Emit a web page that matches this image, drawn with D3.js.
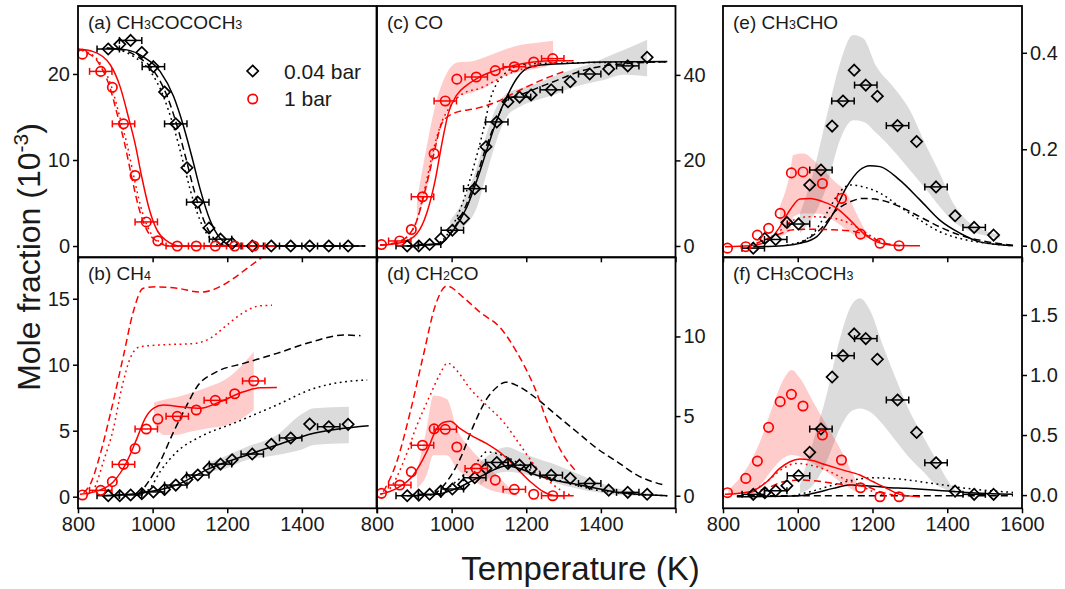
<!DOCTYPE html>
<html><head><meta charset="utf-8">
<script src="https://cdn.jsdelivr.net/npm/d3@7"></script>
<style>body{margin:0;background:#fff}</style>
</head><body>
<script>
// ---------- experimental temperatures (K) ----------
const T04 = [881, 912, 941, 971, 1002, 1032, 1062, 1092, 1121, 1151, 1182, 1213, 1267, 1318, 1370, 1421, 1472, 1524];
const T1  = [812, 861, 892, 922, 953, 983, 1014, 1066, 1117, 1168, 1220, 1271];
const err04 = [30,0,30,0,30,0,30,0,30,0,30,0,30,0,30,0,30,0];
const err1  = [0,30,0,30,0,30,0,30,0,30,0,30];
const noErr1 = [0,0,0,0,0,0,0,0,0,0,0,0];

// ---------- (a) CH3COCOCH3 ----------
const a04 = [22.9, 23.45, 23.9, 22.5, 20.85, 17.9, 14.2, 9.1, 5.1, 2.1, 0.8, 0.3, 0, 0, 0, 0, 0, 0];
const a1  = [22.3, 20.3, 18.45, 14.2, 8.2, 2.8, 0.6, 0, 0, 0, 0, 0];
const aBlackSolid  = [[877,23.0],[931,22.8],[975,22.0],[1020,20.3],[1056,17.4],[1083,13.9],[1105,10.4],[1128,6.5],[1154,3.0],[1181,0.9],[1217,0],[1570,0]];
const aBlackDashed = [[877,23.0],[918,22.8],[960,22.0],[1004,20.3],[1039,17.4],[1066,13.9],[1088,10.4],[1111,6.5],[1137,3.0],[1164,0.9],[1200,0],[1570,0]];
const aBlackDotted = [[877,23.0],[910,22.8],[950,22.0],[994,20.3],[1029,17.4],[1056,13.9],[1078,10.4],[1101,6.5],[1127,3.0],[1154,0.9],[1190,0],[1570,0]];
const aRedSolid    = [[797,22.9],[841,22.6],[886,21.1],[913,18.5],[935,15.0],[953,11.9],[971,8.0],[989,4.6],[1011,1.9],[1038,0.6],[1074,0],[1333,0]];
const aRedDotted   = [[797,22.9],[822,22.6],[862,21.1],[890,18.5],[912,15.0],[931,11.9],[950,8.0],[968,4.6],[990,1.9],[1015,0.6],[1050,0],[1333,0]];
const aRedDashed   = [[797,22.9],[818,22.6],[858,21.1],[885,18.5],[907,15.0],[925,11.9],[944,8.0],[962,4.6],[984,1.9],[1010,0.6],[1045,0],[1333,0]];

// ---------- (b) CH4 ----------
const b04 = [0.08, 0.08, 0.13, 0.23, 0.36, 0.55, 0.88, 1.31, 1.64, 2.15, 2.47, 2.8, 3.23, 3.97, 4.45, 5.5, 5.3, 5.48];
const b1  = [0.13, 0.48, 1.14, 2.45, 3.64, 5.13, 5.88, 6.09, 6.57, 7.3, 7.8, 8.77];
const bBandRed  = [[1004,5.56,7.14],[1030,4.67,7.35],[1060,4.67,7.52],[1100,4.92,7.83],[1150,5.18,8.33],[1200,5.43,8.97],[1240,5.94,9.98],[1271,6.57,10.98]];
const bBandGrey = [[1145,1.89,2.53],[1181,2.02,2.91],[1253,2.78,3.79],[1333,3.16,4.67],[1396,3.54,6.19],[1432,3.92,6.7],[1526,4.04,6.82]];
const bBlackSolid  = [[870,0.08],[975,0.3],[1064,0.88],[1153,2.15],[1253,3.16],[1333,3.92],[1432,4.8],[1579,5.38]];
const bBlackDotted = [[960,0.15],[993,0.64],[1020,1.9],[1065,3.4],[1128,4.55],[1217,5.56],[1333,6.95],[1432,8.2],[1512,8.7],[1575,8.84]];
const bBlackDashed = [[960,0.1],[989,1.14],[1020,2.65],[1056,4.9],[1092,6.95],[1119,8.33],[1172,9.47],[1244,10.1],[1333,10.86],[1423,11.7],[1512,12.25],[1557,12.2]];
const bRedSolid    = [[805,0.18],[859,0.5],[895,1.14],[931,2.65],[958,4.42],[980,5.94],[1002,6.7],[1029,6.95],[1074,6.82],[1128,6.7],[1181,7.2],[1244,7.95],[1289,8.26],[1333,8.28]];
const bRedDotted   = [[825,0.2],[841,0.5],[868,2.65],[895,5.18],[917,8.2],[940,10.5],[966,11.36],[1020,11.5],[1110,11.6],[1154,12.0],[1199,13.0],[1244,13.97],[1289,14.47],[1320,14.5]];
const bRedDashed   = [[815,0.3],[832,0.89],[859,3.16],[886,6.19],[922,10.7],[948,14.0],[975,15.8],[1011,15.9],[1065,15.8],[1128,15.5],[1172,15.8],[1217,16.55],[1253,17.3],[1289,18.06],[1324,18.8]];

// ---------- (c) CO ----------
const c04 = [0, 0, 0.33, 1.7, 3.68, 6.4, 13.4, 23.2, 29.0, 33.7, 34.8, 35.3, 36.5, 38.4, 40.2, 41.4, 42.1, 44.1];
const c1  = [0.33, 1.17, 3.84, 11.5, 21.6, 33.9, 39.0, 39.5, 41.0, 41.9, 43.0, 43.8];
const cBandRed  = [[907,6.0,10.7],[933,13.0,23.2],[960,24.0,34.1],[987,31.0,40.4],[1016,34.9,42.9],[1050,35.7,43.1],[1094,37.2,44.3],[1139,39.6,45.8],[1184,40.7,47.0],[1229,41.5,47.5],[1272,42.3,48.0]];
const cBandGrey = [[996,2.9,6.0],[1032,4.45,10.7],[1068,9.1,18.5],[1094,17.0,26.3],[1121,24.8,32.6],[1148,30.2,35.7],[1184,32.6,36.9],[1229,34.1,38.0],[1273,35.3,39.6],[1318,36.9,41.1],[1363,38.0,42.3],[1408,38.8,43.9],[1461,40.0,45.8],[1524,39.6,48.2]];
const cRedSolid    = [[808,0.17],[871,0.94],[907,2.9],[933,7.6],[956,15.4],[974,24.0],[991,31.0],[1014,35.3],[1041,37.6],[1077,39.6],[1121,41.1],[1166,42.2],[1220,43.0],[1273,43.3],[1327,43.3]];
const cRedDotted   = [[808,0.2],[850,0.8],[880,2.1],[907,6.0],[929,13.8],[951,22.4],[969,27.9],[996,32.6],[1032,35.7],[1077,36.9],[1121,38.8],[1166,40.7],[1211,41.9]];
const cRedDashed   = [[808,0.2],[850,0.8],[880,2.1],[907,6.0],[929,13.0],[951,21.0],[974,28.7],[1005,31.0],[1068,32.2],[1121,33.7],[1166,35.7],[1211,37.6],[1264,39.6],[1309,41.0]];
const cBlackSolid  = [[880,0],[969,0.55],[1005,3.7],[1041,9.1],[1068,15.4],[1094,22.4],[1121,29.4],[1148,34.9],[1175,39.2],[1202,41.5],[1238,42.3],[1318,42.7],[1408,43.0],[1578,43.1]];
const cBlackDotted = [[880,0],[960,0.55],[996,3.7],[1032,10.7],[1059,18.5],[1085,27.1],[1103,34.1],[1121,38.0],[1148,40.7],[1184,42.3],[1246,42.7],[1578,43.0]];
const cBlackDashed = [[880,0],[969,0.6],[1005,4.0],[1041,10],[1068,16.5],[1094,23.5],[1121,29.5],[1148,34.1],[1184,35.3],[1229,36.9],[1273,38.4],[1318,40.0],[1372,41.5],[1425,42.3],[1479,42.7],[1578,43.1]];

// ---------- (d) CH2CO ----------
const d04 = [0, 0.04, 0.09, 0.29, 0.42, 0.71, 1.13, 1.71, 2.09, 2.02, 1.92, 1.67, 1.29, 1.09, 0.77, 0.35, 0.21, 0.09];
const d1  = [0.15, 0.67, 1.5, 3.17, 4.2, 4.17, 3.06, 1.71, 0.98, 0.4, 0.09, 0];
const dBandRed  = [[907,0.46,1.5],[933,1.29,4.21],[951,2.54,6.29],[987,2.54,6.08],[1014,1.71,4.21],[1050,1.09,2.96],[1094,0.46,1.92],[1139,0.15,0.88],[1175,0,0.04]];
const dBandGrey = [[1077,0.67,2.13],[1112,1.29,2.75],[1148,1.5,3.06],[1184,1.4,2.75],[1229,1.19,2.33],[1282,0.77,1.92],[1336,0.46,1.4],[1390,0.21,0.88],[1444,0.04,0.46],[1497,0,0.25],[1533,0,0.15]];
const dRedSolid    = [[808,0.09],[853,0.46],[897,1.29],[933,2.75],[960,4.21],[982,4.63],[996,4.67],[1023,4.21],[1059,3.69],[1094,3.27],[1139,2.54],[1175,1.71],[1211,0.88],[1246,0.25],[1282,0],[1327,0]];
const dRedDotted   = [[810,0.1],[835,0.46],[871,2.13],[907,4.42],[942,6.29],[969,7.65],[989,8.33],[1014,7.86],[1050,6.71],[1094,5.67],[1139,4.63],[1184,3.17],[1229,1.71],[1273,0.67],[1318,0.04]];
const dRedDashed   = [[817,0.25],[853,2.13],[889,5.25],[924,8.79],[956,11.92],[987,13.17],[1032,12.44],[1077,11.5],[1130,10.56],[1175,9.0],[1220,6.92],[1264,4.21],[1300,2.54],[1331,1.6]];
const dBlackSolid  = [[880,0],[960,0.09],[1014,0.46],[1050,0.88],[1085,1.29],[1121,1.71],[1148,1.88],[1175,1.75],[1229,1.29],[1282,0.94],[1336,0.71],[1390,0.46],[1444,0.21],[1497,0.09],[1578,0]];
const dBlackDotted = [[942,0.04],[987,0.46],[1032,1.29],[1068,2.13],[1094,2.75],[1121,2.65],[1157,2.33],[1202,1.71],[1256,1.19],[1318,0.77],[1390,0.35],[1461,0.15],[1578,0]];
const dBlackDashed = [[951,0.04],[987,0.88],[1023,2.33],[1059,4.42],[1094,6.08],[1121,6.81],[1144,7.13],[1175,6.92],[1229,6.08],[1282,5.04],[1336,4.0],[1390,2.96],[1444,2.13],[1497,1.29],[1569,0.67]];

// ---------- (e) CH3CHO ----------
const e04 = [-0.005, 0.015, 0.013, 0.048, 0.045, 0.126, 0.157, 0.248, 0.30, 0.364, 0.333, 0.31, 0.249, 0.216, 0.122, 0.062, 0.038, 0.022];
const e1  = [-0.005, -0.002, 0.022, 0.036, 0.067, 0.151, 0.153, 0.129, 0.098, 0.024, 0.005, 0];
const eBandRed  = [[952,0.019,0.081],[979,0.033,0.15],[988,0.06,0.188],[1015,0.067,0.191],[1051,0.067,0.171],[1095,0.053,0.136],[1131,0.033,0.109],[1157,0.019,0.067],[1184,0.012,0.026]];
const eBandGrey = [[1006,0.026,0.067],[1041,0.06,0.15],[1077,0.122,0.267],[1113,0.219,0.378],[1148,0.26,0.437],[1175,0.257,0.43],[1211,0.233,0.371],[1255,0.198,0.33],[1300,0.157,0.281],[1345,0.115,0.205],[1380,0.081,0.15],[1416,0.05,0.088],[1452,0.033,0.053],[1496,0.022,0.033],[1541,0.015,0.022]];
const eBlackSolid  = [[881,-0.002],[961,0],[1006,0.005],[1051,0.019],[1095,0.067],[1131,0.122],[1166,0.157],[1193,0.166],[1220,0.164],[1273,0.136],[1327,0.095],[1380,0.053],[1434,0.026],[1487,0.008],[1576,0]];
const eBlackDotted = [[970,0.001],[1033,0.019],[1077,0.067],[1113,0.112],[1140,0.126],[1175,0.122],[1220,0.109],[1273,0.081],[1327,0.053],[1380,0.029],[1434,0.015],[1496,0.006],[1576,0]];
const eBlackDashed = [[1006,0.005],[1059,0.033],[1104,0.074],[1140,0.091],[1175,0.098],[1220,0.095],[1273,0.081],[1327,0.06],[1380,0.039],[1434,0.022],[1496,0.01],[1576,0.001]];
const eRedSolid    = [[805,-0.002],[872,0],[917,0.008],[952,0.039],[979,0.074],[1006,0.097],[1033,0.098],[1068,0.091],[1104,0.078],[1140,0.053],[1175,0.026],[1211,0.008],[1255,0.001],[1327,0]];
const eRedDotted   = [[890,0.005],[944,0.026],[988,0.053],[1033,0.06],[1095,0.057],[1140,0.046],[1184,0.026],[1229,0.006],[1273,0]];
const eRedDashed   = [[890,0.005],[944,0.022],[988,0.033],[1033,0.034],[1095,0.033],[1140,0.031],[1184,0.022],[1229,0.006],[1273,0]];

// ---------- (f) CH3COCH3 ----------
const f04 = [0.006, 0.02, 0.036, 0.078, 0.161, 0.356, 0.55, 0.983, 1.161, 1.342, 1.303, 1.131, 0.792, 0.522, 0.269, 0.033, 0.006, 0.006];
const f1  = [0.02, 0.139, 0.283, 0.564, 0.778, 0.839, 0.742, 0.5, 0.292, 0.061, -0.014, -0.014];
const fBandRed  = [[814,0,0.042],[863,0.022,0.222],[899,0.083,0.444],[934,0.222,0.75],[961,0.306,0.958],[984,0.333,1.042],[1006,0.319,0.972],[1041,0.264,0.778],[1077,0.194,0.583],[1113,0.111,0.389],[1140,0.056,0.222],[1157,0.022,0.111]];
const fBandGrey = [[1006,0.014,0.083],[1041,0.083,0.444],[1077,0.278,0.833],[1113,0.556,1.306],[1144,0.7,1.583],[1166,0.722,1.639],[1193,0.694,1.542],[1229,0.583,1.236],[1264,0.444,0.958],[1300,0.306,0.694],[1336,0.194,0.486],[1371,0.083,0.292],[1398,0.042,0.139],[1425,0.006,0.028]];
const fRedSolid    = [[805,0.006],[872,0.028],[917,0.111],[952,0.222],[979,0.278],[1006,0.3],[1033,0.292],[1077,0.25],[1122,0.208],[1166,0.167],[1202,0.111],[1238,0.056],[1273,0.006],[1327,-0.014]];
const fRedDotted   = [[872,0.022],[917,0.111],[961,0.222],[997,0.264],[1033,0.25],[1077,0.208],[1122,0.139],[1166,0.083],[1202,0.028],[1238,-0.006]];
const fRedDashed   = [[872,0.022],[917,0.056],[961,0.111],[1006,0.125],[1051,0.117],[1095,0.097],[1140,0.083],[1184,0.069],[1220,0.028],[1255,0]];
const fBlackSolid  = [[837,-0.014],[1006,-0.006],[1051,0.022],[1095,0.056],[1140,0.083],[1184,0.078],[1238,0.064],[1291,0.056],[1362,0.042],[1452,0.022],[1576,0.006]];
const fBlackDotted = [[988,-0.006],[1033,0.028],[1095,0.083],[1148,0.125],[1202,0.144],[1273,0.133],[1362,0.097],[1452,0.056],[1576,0.022]];
const fBlackDashed = [[837,-0.006],[1000,-0.006],[1200,-0.006],[1400,-0.006],[1576,-0.006]];

// ---------- ticks / labels ----------
const xTicks = [800, 1000, 1200, 1400, 1600];
const xLabelsLeft = [800, 1000, 1200, 1400];
const xLabelsRight = [800, 1000, 1200, 1400, 1600];
const legendLabels = ["0.04 bar", "1 bar"];

// ---------- drawing ----------
const W = 1065, H = 589;
const RED = "#ff0000", BLACK = "#000";
const FONT = "Arial, 'Liberation Sans', sans-serif";
const svg = d3.select("body").append("svg").attr("width", W).attr("height", H)
  .style("font-family", FONT);
svg.append("rect").attr("width", W).attr("height", H).attr("fill", "#fff");
const defs = svg.append("defs");

const cols = [{x0: 78, x1: 376.5}, {x0: 377, x1: 675.5}, {x0: 723, x1: 1022}];
const rows = [{y0: 6, y1: 257.3}, {y0: 257.3, y1: 508.3}];

const panels = [
  {id: "a", col: 0, row: 0, dom: [-1.31, 27.9], yt: [0, 10, 20], fmt: d3.format("d"), side: "left", xl: null,
   title: [["(a) CH", 0], ["3", 1], ["COCOCH", 0], ["3", 1]],
   d04: a04, d1: a1, e1: err1, bands: [],
   lines: [[aBlackSolid, BLACK, "s"], [aBlackDashed, BLACK, "d"], [aBlackDotted, BLACK, "o"], [aRedSolid, RED, "s"], [aRedDashed, RED, "d"], [aRedDotted, RED, "o"]]},
  {id: "b", col: 0, row: 1, dom: [-0.88, 18.14], yt: [0, 5, 10, 15], fmt: d3.format("d"), side: "left", xl: xLabelsLeft,
   title: [["(b) CH", 0], ["4", 1]],
   d04: b04, d1: b1, e1: err1, bands: [[bBandGrey, "grey"], [bBandRed, "red"]],
   lines: [[bBlackSolid, BLACK, "s"], [bBlackDashed, BLACK, "d"], [bBlackDotted, BLACK, "o"], [bRedSolid, RED, "s"], [bRedDashed, RED, "d"], [bRedDotted, RED, "o"]]},
  {id: "c", col: 1, row: 0, dom: [-2.65, 56.1], yt: [0, 20, 40], fmt: d3.format("d"), side: "right", xl: null,
   title: [["(c) CO", 0]],
   d04: c04, d1: c1, e1: err1, bands: [[cBandGrey, "grey"], [cBandRed, "red"]],
   lines: [[cBlackSolid, BLACK, "s"], [cBlackDashed, BLACK, "d"], [cBlackDotted, BLACK, "o"], [cRedSolid, RED, "s"], [cRedDashed, RED, "d"], [cRedDotted, RED, "o"]]},
  {id: "d", col: 1, row: 1, dom: [-0.79, 14.97], yt: [0, 5, 10], fmt: d3.format("d"), side: "right", xl: xLabelsLeft,
   title: [["(d) CH", 0], ["2", 1], ["CO", 0]],
   d04: d04, d1: d1, e1: err1, bands: [[dBandGrey, "grey"], [dBandRed, "red"]],
   lines: [[dBlackSolid, BLACK, "s"], [dBlackDashed, BLACK, "d"], [dBlackDotted, BLACK, "o"], [dRedSolid, RED, "s"], [dRedDashed, RED, "d"], [dRedDotted, RED, "o"]]},
  {id: "e", col: 2, row: 0, dom: [-0.024, 0.497], yt: [0, 0.2, 0.4], fmt: d3.format(".1f"), side: "right", xl: null,
   title: [["(e) CH", 0], ["3", 1], ["CHO", 0]],
   d04: e04, d1: e1, e1: noErr1, bands: [[eBandGrey, "grey"], [eBandRed, "red"]],
   lines: [[eBlackSolid, BLACK, "s"], [eBlackDashed, BLACK, "d"], [eBlackDotted, BLACK, "o"], [eRedSolid, RED, "s"], [eRedDashed, RED, "d"], [eRedDotted, RED, "o"]]},
  {id: "f", col: 2, row: 1, dom: [-0.11, 1.98], yt: [0, 0.5, 1.0, 1.5], fmt: d3.format(".1f"), side: "right", xl: xLabelsRight,
   title: [["(f) CH", 0], ["3", 1], ["COCH", 0], ["3", 1]],
   d04: f04, d1: f1, e1: noErr1, bands: [[fBandGrey, "grey"], [fBandRed, "red"]],
   lines: [[fBlackSolid, BLACK, "s"], [fBlackDashed, BLACK, "d"], [fBlackDotted, BLACK, "o"], [fRedSolid, RED, "s"], [fRedDashed, RED, "d"], [fRedDotted, RED, "o"]]}
];

const dashes = {s: null, d: "7,4", o: "1.8,3.6"};

panels.forEach(p => {
  const c = cols[p.col], r = rows[p.row];
  const xs = d3.scaleLinear().domain([800, 1600]).range([c.x0, c.x1]);
  const ys = d3.scaleLinear().domain(p.dom).range([r.y1, r.y0]);
  const g = svg.append("g");
  defs.append("clipPath").attr("id", "clip" + p.id).append("rect")
    .attr("x", c.x0).attr("y", r.y0).attr("width", c.x1 - c.x0).attr("height", r.y1 - r.y0);
  const plot = g.append("g").attr("clip-path", `url(#clip${p.id})`);

  const area = d3.area().x(d => xs(d[0])).y0(d => ys(d[1])).y1(d => ys(d[2])).curve(d3.curveMonotoneX);
  p.bands.forEach(([data, kind]) => {
    plot.append("path").datum(data).attr("d", area)
      .attr("fill", kind === "red" ? "#ff0000" : "#000")
      .attr("fill-opacity", kind === "red" ? 0.2 : 0.14);
  });

  const line = d3.line().x(d => xs(d[0])).y(d => ys(d[1])).curve(d3.curveMonotoneX);
  p.lines.forEach(([data, col, sty]) => {
    plot.append("path").datum(data).attr("d", line).attr("fill", "none")
      .attr("stroke", col).attr("stroke-width", 1.5)
      .attr("stroke-dasharray", dashes[sty]);
  });

  // error bars
  const eb = g.append("g");
  function errBars(Ts, vals, errs, col) {
    Ts.forEach((t, i) => {
      const e = errs[i];
      if (!e) return;
      const y = ys(vals[i]);
      eb.append("line").attr("x1", xs(t - e)).attr("x2", xs(t + e)).attr("y1", y).attr("y2", y)
        .attr("stroke", col).attr("stroke-width", 1.5);
      [t - e, t + e].forEach(tt => eb.append("line").attr("x1", xs(tt)).attr("x2", xs(tt))
        .attr("y1", y - 3.5).attr("y2", y + 3.5).attr("stroke", col).attr("stroke-width", 1.5));
    });
  }
  errBars(T04, p.d04, err04, BLACK);
  errBars(T1, p.d1, p.e1, RED);

  // markers
  const mk = g.append("g");
  mk.selectAll(".dia").data(T04.map((t, i) => [t, p.d04[i]])).join("path")
    .attr("d", "M0,-5.6L5.6,0L0,5.6L-5.6,0Z")
    .attr("transform", d => `translate(${xs(d[0])},${ys(d[1])})`)
    .attr("fill", "none").attr("stroke", BLACK).attr("stroke-width", 1.7);
  mk.selectAll(".cir").data(T1.map((t, i) => [t, p.d1[i]])).join("circle")
    .attr("cx", d => xs(d[0])).attr("cy", d => ys(d[1])).attr("r", 4.7)
    .attr("fill", "none").attr("stroke", RED).attr("stroke-width", 1.7);

  // frame
  g.append("rect").attr("x", c.x0).attr("y", r.y0).attr("width", c.x1 - c.x0).attr("height", r.y1 - r.y0)
    .attr("fill", "none").attr("stroke", "#000").attr("stroke-width", 1.8);

  // y axis
  const yAx = (p.side === "left" ? d3.axisLeft(ys) : d3.axisRight(ys))
    .tickValues(p.yt).tickFormat(p.fmt).tickSize(5).tickPadding(3);
  const yg = g.append("g").attr("transform", `translate(${p.side === "left" ? c.x0 : c.x1},0)`).call(yAx);
  yg.select(".domain").remove();
  yg.selectAll(".tick line").attr("stroke-width", 1.5);
  yg.selectAll(".tick text").attr("font-size", 20).attr("font-family", FONT).attr("fill", "#1a1a1a");

  // x axis
  const xAx = d3.axisBottom(xs).tickValues(xTicks).tickSize(5).tickPadding(4)
    .tickFormat(v => (p.xl && p.xl.includes(v)) ? v : "");
  const xg = g.append("g").attr("transform", `translate(0,${r.y1})`).call(xAx);
  xg.select(".domain").remove();
  xg.selectAll(".tick line").attr("stroke-width", 1.5);
  xg.selectAll(".tick text").attr("font-size", 20).attr("font-family", FONT).attr("fill", "#1a1a1a");

  // title
  const tt = g.append("text").attr("x", c.x0 + 10).attr("y", r.y0 + 23)
    .attr("font-size", 19).attr("fill", "#1a1a1a");
  p.title.forEach(([s, sub]) => {
    tt.append("tspan").text(s).attr("font-size", sub ? 12.5 : 19);
  });
});

// legend in panel (a)
const lg = svg.append("g");
lg.append("path").attr("d", "M0,-5.6L5.6,0L0,5.6L-5.6,0Z").attr("transform", "translate(252.7,71)")
  .attr("fill", "none").attr("stroke", BLACK).attr("stroke-width", 1.7);
lg.append("circle").attr("cx", 252.7).attr("cy", 99).attr("r", 4.7)
  .attr("fill", "none").attr("stroke", RED).attr("stroke-width", 1.7);
lg.append("text").attr("x", 284).attr("y", 79).attr("font-size", 21).attr("fill", "#1a1a1a").text(legendLabels[0]);
lg.append("text").attr("x", 284).attr("y", 106).attr("font-size", 21).attr("fill", "#1a1a1a").text(legendLabels[1]);

// axis titles
svg.append("text").attr("x", 580.5).attr("y", 580).attr("text-anchor", "middle")
  .attr("font-size", 33).attr("fill", "#1a1a1a").text("Temperature (K)");
const yt = svg.append("text").attr("transform", "translate(40,257) rotate(-90)")
  .attr("text-anchor", "middle").attr("font-size", 32).attr("fill", "#1a1a1a");
yt.append("tspan").text("Mole fraction (10");
yt.append("tspan").text("-3").attr("font-size", 21).attr("dy", -12);
yt.append("tspan").text(")").attr("dy", 12);
</script>
</body></html>
